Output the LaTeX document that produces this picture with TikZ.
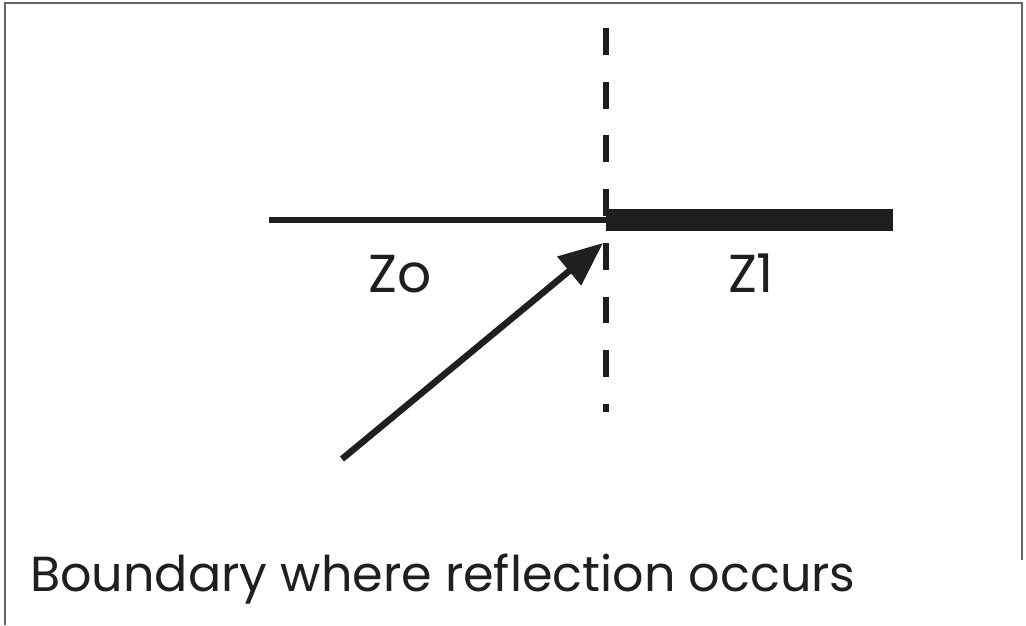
\documentclass[tikz,border=0pt]{standalone}
\usepackage{fontspec}
\setmainfont{Poppins}
\usetikzlibrary{arrows.meta}

\begin{document}
\begin{tikzpicture}[
x=0.025cm, y=-0.025cm,
frame/.style={draw=gray!80!black, line width=1.2pt},
thinline/.style={line width=4.3pt, color=black!88},
thickline/.style={line width=15pt, color=black!88},
boundary/.style={line width=4.3pt, color=black!88, dash pattern=on 19.1pt off 19.1pt},
pointer/.style={-{Triangle[length=1.1cm, width=0.9cm]}, line width=4.6pt, color=black!88},
label/.style={font=\fontsize{38}{44}\selectfont, text=black!88, inner sep=0pt, anchor=base}
]
\useasboundingbox (0,0) rectangle (1026,625);

% frame
\draw[frame] (1022,560) -- (1022,3) -- (5,3) -- (5,625);

% line ends
\coordinate (lineL) at (269,220);
\coordinate (joint) at (606,220);
\coordinate (lineR) at (893,220);
\coordinate (dashTop) at (606,28);
\coordinate (dashBot) at (606,412);
\coordinate (tail) at (342,459);
\coordinate (tip) at (603,243);

% lines
\draw[thinline] (lineL) -- (joint);
\draw[thickline] (joint) -- (lineR);
\draw[boundary] (dashTop) -- (dashBot);

% labels
\node[label] (zo) at (400,292) {Zo};
\node[label] (zone) at (751,292) {Z1};
\node[label, anchor=base west, font=\fontsize{35}{42}\selectfont] (note) at (30,591) {Boundary where reflection occurs};

\draw[pointer] (tail) -- (tip);

\end{tikzpicture}
\end{document}
